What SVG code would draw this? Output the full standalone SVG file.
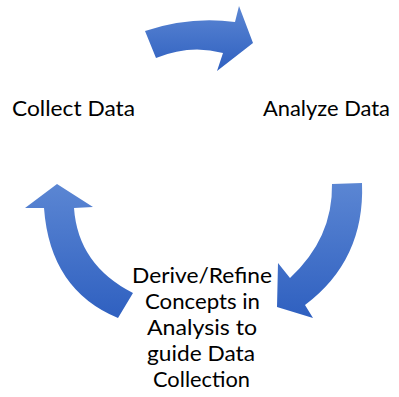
<svg xmlns="http://www.w3.org/2000/svg" width="399" height="397" viewBox="0 0 399 397">
  <style>
    .lbl { font-family: Lato, "Open Sans", sans-serif; font-size: 22px; fill: #000; }
    .arrow { stroke: none; }
  </style>
  <defs>
    <linearGradient id="blueFill" x1="0" y1="0" x2="0" y2="1">
      <stop offset="0" stop-color="#5b86d3"/>
      <stop offset="1" stop-color="#2f60c0"/>
    </linearGradient>
  </defs>
  <rect width="399" height="397" fill="#fff"/>

  <!-- curved cycle arrows -->
  <g id="connectors">
    <path class="arrow" fill="url(#blueFill)" d="M145,31 Q190,16 235,22 L239,6 L253,43 L217,71 L223,53 Q190,44 156,58 Z"/>
    <path class="arrow" fill="url(#blueFill)" d="M332,184 L362,183 Q365,260 305,305 L313,318 L277,307 L278,263 L290,278 Q333,238 332,184 Z"/>
    <path class="arrow" fill="url(#blueFill)" d="M118,318 Q50,290 44,208 L25,208 L57,184 L93,207 L74,208 Q78,265 133,293 Z"/>
  </g>

  <g id="collect">
    <text class="lbl" x="12" y="116" textLength="123" lengthAdjust="spacingAndGlyphs">Collect Data</text>
  </g>
  <g id="analyze">
    <text class="lbl" x="263" y="116" textLength="127" lengthAdjust="spacingAndGlyphs">Analyze Data</text>
  </g>
  <g id="derive">
    <text class="lbl" x="132" y="283" textLength="140" lengthAdjust="spacingAndGlyphs">Derive/Refine</text>
    <text class="lbl" x="145" y="309" textLength="115" lengthAdjust="spacingAndGlyphs">Concepts in</text>
    <text class="lbl" x="147" y="335" textLength="110" lengthAdjust="spacingAndGlyphs">Analysis to</text>
    <text class="lbl" x="147" y="361" textLength="108" lengthAdjust="spacingAndGlyphs">guide Data</text>
    <text class="lbl" x="153" y="387" textLength="97" lengthAdjust="spacingAndGlyphs">Collection</text>
  </g>
</svg>
